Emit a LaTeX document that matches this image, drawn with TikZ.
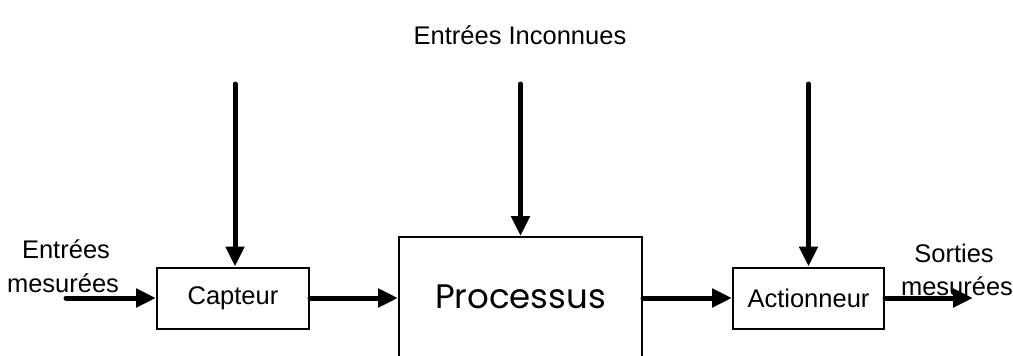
\documentclass[tikz,border=0pt]{standalone}
\usepackage{fontspec}
\setmainfont{Liberation Sans}
\newfontfamily\procfont{Poppins}
\usetikzlibrary{arrows.meta}
\begin{document}
\begin{tikzpicture}[x=1pt,y=-1pt,
  box/.style={draw,line width=2pt,minimum width=152pt,minimum height=61pt,inner sep=0pt,font=\fontsize{25.5}{30}\selectfont},
  arr/.style={line width=5pt,line cap=round,-{Triangle[length=20pt,width=18pt]}},
  lbl/.style={font=\fontsize{25.5}{30}\selectfont,inner sep=0pt,anchor=base}]
\useasboundingbox (0,0) rectangle (1013,356);
\clip (0,0) rectangle (1013,356);
\fill[white] (0,0) rectangle (1013,356);
\node[box] (cap) at (233,298) {Capteur};
\node[box,minimum width=243pt,minimum height=122pt,font=\procfont\fontsize{34}{40}\selectfont] (proc) at (520.5,298) {\raisebox{3pt}{Processus}};
\node[box,minimum width=151pt] (act) at (808.5,298) {Actionneur};
\node[lbl] (top) at (520,45) {Entrées Inconnues};
\node[lbl] (in1) at (66,258) {Entrées};
\node[lbl] (in2) at (63,292) {mesurées};
\node[lbl] (out1) at (954,262) {Sorties};
\node[lbl] (out2) at (957,295) {mesurées};
\coordinate (s0) at (66,298);
\coordinate (e0) at (973,298);
\coordinate (u1) at (235,84);
\coordinate (u2) at (520.5,84);
\coordinate (u3) at (808.5,84);
\draw[arr] (s0) -- (cap.west);
\draw[arr] (cap.east) -- (proc.west);
\draw[arr] (proc.east) -- (act.west);
\draw[arr] (act.east) -- (e0);
\draw[arr] (u1) -- (u1 |- cap.north);
\draw[arr] (u2) -- (proc.north);
\draw[arr] (u3) -- (act.north);
\end{tikzpicture}
\end{document}
